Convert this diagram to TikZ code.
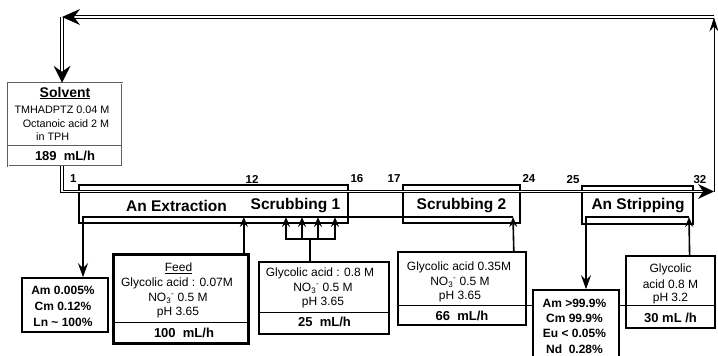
\documentclass[tikz,border=0pt]{standalone}
\usepackage{fontspec}
\setmainfont{Liberation Sans}
\usetikzlibrary{arrows.meta,positioning,calc}
\definecolor{solvGray}{RGB}{95,95,95}

\tikzset{
  txt/.style={inner sep=0pt, font=\fontsize{12}{14}\selectfont},
  solvtxt/.style={inner sep=0pt, font=\fontsize{10.8}{13}\selectfont},
  btxt/.style={inner sep=0pt, font=\fontsize{12}{14}\selectfont\bfseries},
  ratetxt/.style={inner sep=0pt, font=\fontsize{13}{15}\selectfont\bfseries},
  stagetxt/.style={inner sep=1.5pt, font=\fontsize{11.5}{13}\selectfont\bfseries},
  banktxt/.style={inner sep=0pt, font=\fontsize{15.5}{18}\selectfont\bfseries},
  bankbox/.style={draw, line width=1.6pt, inner sep=0pt},
  databox/.style={draw, line width=1.6pt, fill=white, inner sep=0pt},
  divider/.style={line width=0.6pt},
  orgline/.style={double, line width=0.8pt, double distance=1.6pt},
  aqline/.style={line width=1.6pt},
  aqtip/.style={-{Stealth[length=14pt,width=10pt,inset=5pt]}},
  inlettip/.style={-{Stealth[length=10pt,width=8pt,inset=3.5pt]}},
  thintip/.style={-{Stealth[length=14pt,width=9pt,inset=5pt]}},
}

\begin{document}
\begin{tikzpicture}[x=1pt,y=-1pt]
\useasboundingbox (0,0) rectangle (718,356);

% contactor banks
\node[bankbox, minimum width=269pt, minimum height=38pt] (ext) at (213.5,204) {};
\node[bankbox, minimum width=117pt, minimum height=38pt] (scr2) at (461.5,204) {};
\node[bankbox, minimum width=111pt, minimum height=38pt] (strip) at (637.5,205) {};
\node[banktxt] (extlbl) at (176.5,206) {An Extraction};
\node[banktxt] (scr1lbl) at (295.5,206) {Scrubbing 1};
\node[banktxt] (scr2lbl) at (461.5,206) {Scrubbing 2};
\node[banktxt] (striplbl) at (638,206) {An Stripping};

% stage numbers
\node[stagetxt, anchor=south east] (st1) at (ext.north west) {1};
\node[stagetxt, anchor=south] (st12) at (252,185) {12};
\node[stagetxt, anchor=south west] (st16) at (ext.north east) {16};
\node[stagetxt, anchor=south east] (st17) at (scr2.north west) {17};
\node[stagetxt, anchor=south west] (st24) at (scr2.north east) {24};
\node[stagetxt, anchor=south east] (st25) at (strip.north west) {25};
\node[stagetxt, anchor=south west] (st32) at ([xshift=-2pt]strip.north east) {32};

% solvent
\node[draw=solvGray, double, line width=0.5pt, double distance=0.8pt,
  minimum width=114pt, minimum height=83pt] (solvent) at (65,124.5) {};
\node[inner sep=0pt, font=\fontsize{14}{16}\selectfont\bfseries] (solvhead) at (65,93) {\underline{Solvent}};
\node[solvtxt] (solv1) at (62,110) {TMHADPTZ 0.04 M};
\node[solvtxt] (solv2) at (66,123.5) {Octanoic acid 2 M};
\node[solvtxt, anchor=west] (solv3) at (36,137) {in TPH};
\draw[divider, solvGray] ($(solvent.south west)+(0,-21)$) -- ($(solvent.south east)+(0,-21)$);
\node[ratetxt] (solvrate) at (65,156) {189 \ mL/h};

% raffinate
\node[databox, minimum width=86pt, minimum height=54pt] (raff) at (65,305) {};
\node[btxt] (raff1) at (63,290) {Am 0.005\%};
\node[btxt] (raff2) at (63,306) {Cm 0.12\%};
\node[btxt] (raff3) at (63,322) {Ln \textasciitilde\ 100\%};

% feed
\node[databox, line width=2.6pt, minimum width=135pt, minimum height=89pt] (feed) at (181,299) {};
\node[txt] (feedhead) at (178.5,268) {\underline{Feed}};
\node[txt] (feed1) at (177,283) {Glycolic acid : 0.07M};
\node[txt] (feed2) at (178,298) {NO\textsubscript{3}\textsuperscript{-} 0.5 M};
\node[txt] (feed3) at (178,313) {pH 3.65};
\draw[divider] ($(feed.south west)+(0,-23)$) -- ($(feed.south east)+(0,-23)$);
\node[ratetxt] (feedrate) at (184,333) {100 \ mL/h};

% scrubbing 1 solution
\node[databox, minimum width=130pt, minimum height=72pt] (scr1feed) at (324,298) {};
\node[txt] (scr1a) at (320,273) {Glycolic acid : 0.8 M};
\node[txt] (scr1b) at (323,288) {NO\textsubscript{3}\textsuperscript{-} 0.5 M};
\node[txt] (scr1c) at (323,303) {pH 3.65};
\draw[divider] ($(scr1feed.south west)+(0,-23)$) -- ($(scr1feed.south east)+(0,-23)$);
\node[ratetxt] (scr1rate) at (324.5,322) {25 \ mL/h};

% scrubbing 2 solution and stripping solution
\node[databox, minimum width=128pt, minimum height=73pt] (scr2feed) at (462,288.5) {};
\node[databox, line width=1.2pt, minimum width=89pt, minimum height=72pt] (stripfeed) at (670.5,292) {};
\draw[divider] ($(scr2feed.south west)+(0,-21)$) -- ($(stripfeed.east |- scr2feed.south)+(0,-21)$);
\node[txt] (scr2a) at (459,267) {Glycolic acid 0.35M};
\node[txt] (scr2b) at (460,282) {NO\textsubscript{3}\textsuperscript{-} 0.5 M};
\node[txt] (scr2c) at (460,297) {pH 3.65};
\node[ratetxt] (scr2rate) at (462,316) {66 \ mL/h};
\node[txt] (stripa) at (670.5,269) {Glycolic};
\node[txt] (stripb) at (670.5,284.5) {acid 0.8 M};
\node[txt] (stripc) at (670.5,299) {pH 3.2};
\node[ratetxt] (striprate) at (670.5,318) {30 mL /h};

% product
\node[databox, minimum width=86pt, minimum height=72pt] (prod) at (576,326) {};
\node[btxt] (prod1) at (574.5,303) {Am >99.9\%};
\node[btxt] (prod2) at (574.5,318) {Cm 99.9\%};
\node[btxt] (prod3) at (574.5,333.5) {Eu < 0.05\%};
\node[btxt] (prod4) at (574.5,349) {Nd \ 0.28\%};

% organic phase loop
\coordinate (topR) at (714,17);
\coordinate (topL) at (62,17);
\coordinate (orgL) at (62,191.5);
\coordinate (orgR) at (714,191.5);
\coordinate (solvIn) at (topL |- solvent.north);
\draw[orgline] (topR) -- ([xshift=8pt]topL);
\draw[orgline] (topL) -- ([yshift=8pt]solvIn);
\draw[orgline] (solvent.south -| orgL) -- (orgL) -- ([xshift=-8pt]orgR);
\draw[line width=0.8pt, thintip] (orgR) -- ([yshift=-0.5pt]topR);
% filled heads on the double lines
\fill (topL) -- ++(18,-8) -- ++(-6,8) -- ++(6,8) -- cycle;
\fill (solvIn) -- ++(-8.5,-17) -- ++(8.5,6) -- ++(8.5,-6) -- cycle;
\fill (orgR) -- ++(-16,-7.5) -- ++(5,7.5) -- ++(-5,7.5) -- cycle;

% aqueous phase
\coordinate (aqR) at (513,217);
\coordinate (aqL) at (83,217);
\draw[aqline, aqtip] (aqR) -- (aqL) -- (aqL |- raff.north);
\draw[aqline, inlettip] ([xshift=-6pt]feed.north east) -- ([xshift=-6pt]feed.north east |- aqL);
\draw[aqline, inlettip] ([xshift=-13pt]scr2feed.north east) -- (aqR);
\draw[aqline] ([xshift=-14pt]scr1feed.north) -- ++(0,-22) coordinate (barmid);
\draw[aqline] (barmid -| 286,0) -- (barmid -| 335,0);
\foreach \xi in {286,302,318,335}
  \draw[aqline, inlettip] (\xi,240) -- (\xi,217);
\coordinate (stR) at (689,217);
\coordinate (stL) at (586,217);
\draw[aqline, inlettip] ([xshift=-26pt]stripfeed.north east) -- (stR);
\draw[aqline, aqtip] (stR) -- (stL) -- (stL |- prod.north);
\end{tikzpicture}
\end{document}
